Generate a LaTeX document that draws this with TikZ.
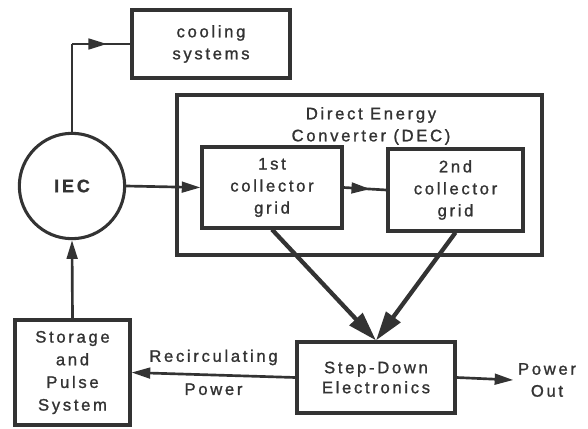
\documentclass[tikz,border=0pt]{standalone}
\usepackage{fontspec}
\setmainfont{Liberation Sans}[LetterSpace=16, FakeBold=1.2]
\usepackage{tikz}
\usetikzlibrary{positioning, arrows.meta, decorations.markings}

\begin{document}
\begin{tikzpicture}[
    x=0.75pt, y=-0.75pt,
    every node/.style={text=black!80, font=\fontsize{12.5}{16.5}\selectfont},
    box/.style={draw=black!80, line width=2.3pt, align=center, inner sep=0pt},
    link/.style={line width=2pt, draw=black!80},
    arr/.style={link, -{Triangle[length=14pt, width=8pt]}},
    midarr/.style={link, postaction={decorate},
                   decoration={markings, mark=at position #1 with {\arrow{Triangle[length=14pt, width=8pt]}}}},
    fat/.style={line width=3.2pt, draw=black!80, -{Triangle[length=22pt, width=13pt]}},
]
    \useasboundingbox (0,0) rectangle (588,428);

    \node[box, minimum width=118.5pt, minimum height=51pt] (cool) at (211,44) {cooling\\systems};
    \node[box, minimum width=273.75pt, minimum height=120pt] (dec) at (359.5,175) {};
    \node[align=center] (dectitle) at (371,126) {Direct Energy\\Converter (DEC)};
    \node[box, minimum width=105pt, minimum height=60.75pt] (g1) at (272,187.5) {1st\\collector\\grid};
    \node[box, minimum width=101.25pt, minimum height=61.5pt] (g2) at (455.5,190) {2nd\\collector\\grid};
    \node[circle, draw=black!80, line width=2.3pt, minimum size=79pt, font=\fontsize{13.5}{16}\selectfont\bfseries] (iec) at (72,186) {IEC};
    \node[box, minimum width=86.25pt, minimum height=78.75pt, font=\fontsize{12.5}{17}\selectfont] (store) at (72.5,372.5) {Storage\\and\\Pulse\\System};
    \node[box, minimum width=118.5pt, minimum height=53.25pt, font=\fontsize{12.5}{15}\selectfont] (step) at (376,377.5) {Step-Down\\Electronics};
    \node[align=center] (pout) at (547,380) {Power\\Out};

    \draw[link] (iec.north) -- (iec.north |- cool.west);
    \draw[midarr=0.6] (iec.north |- cool.west) -- (cool.west);
    \draw[arr] (iec.east) -- (g1.west);
    \draw[midarr=0.62] (g1.east) -- (g2.west);
    \draw[fat] (g1.south) -- (step.north);
    \draw[fat] (g2.south) -- (step.north);
    \draw[arr] (store.north) -- (iec.south);
    \draw[arr] (step.west) -- node[above=3pt] {Recirculating} node[below=2pt] {Power} (store.east);
    \draw[arr] (step.east) -- (pout.west);
\end{tikzpicture}
\end{document}
